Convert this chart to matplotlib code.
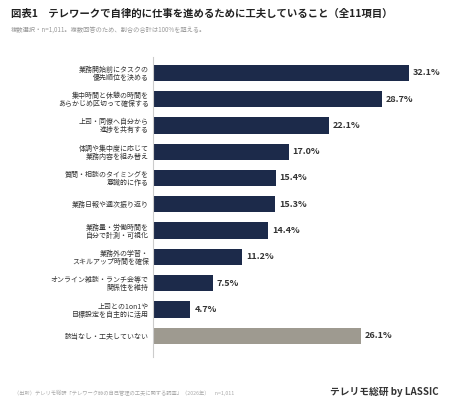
import matplotlib
matplotlib.use("Agg")
import matplotlib.pyplot as plt

plt.rcParams['font.family'] = ['Noto Sans CJK JP', 'DejaVu Sans']

labels = ["業務開始前にタスクの\n優先順位を決める", "集中時間と休憩の時間を\nあらかじめ区切って確保する",
          "上司・同僚へ自分から\n進捗を共有する", "体調や集中度に応じて\n業務内容を組み替え",
          "質問・相談のタイミングを\n意識的に作る", "業務日報や週次振り返り",
          "業務量・労働時間を\n自分で計測・可視化", "業務外の学習・\nスキルアップ時間を確保",
          "オンライン雑談・ランチ会等で\n関係性を維持", "上司との1on1や\n目標設定を自主的に活用",
          "該当なし・工夫していない"]
values = [32.1, 28.7, 22.1, 17.0, 15.4, 15.3, 14.4, 11.2, 7.5, 4.7, 26.1]
colors = ["#1c2a4a"] * 10 + ["#9e9a90"]

fig = plt.figure(figsize=(4.5, 4.01), dpi=100)
ax = fig.add_axes([0.34, 0.11, 0.62, 0.748])
y = list(range(len(values)))
ax.barh(y, values, color=colors, height=0.62)
ax.set_ylim(len(values) - 0.2, -0.6)
ax.set_xlim(0, 35)
for yi, v in zip(y, values):
    ax.text(v + 0.5, yi, f"{v:.1f}%", va='center', ha='left', fontsize=6.5, fontweight='bold', color='#333333')
ax.set_yticks(y)
ax.set_yticklabels(labels, fontsize=5, color='#333333', linespacing=1.0)
ax.tick_params(axis='y', length=0, pad=3)
ax.set_xticks([])
for s in ['top', 'right', 'bottom']:
    ax.spines[s].set_visible(False)
ax.spines['left'].set_color('#cccccc')

fig.text(0.025, 0.965, "図表1　テレワークで自律的に仕事を進めるために工夫していること（全11項目）",
         fontsize=7.5, fontweight='bold', color='#222222', va='center')
fig.text(0.025, 0.925, "複数選択・n=1,011。複数回答のため、割合の合計は100%を超える。",
         fontsize=4.5, color='#999999', va='center')
fig.text(0.03, 0.02, "（出所）テレリモ総研「テレワーク時の自己管理の工夫に関する調査」（2026年）　n=1,011",
         fontsize=3.8, color='#aaaaaa', va='center')
fig.text(0.975, 0.022, "テレリモ総研 by LASSIC", fontsize=7, fontweight='bold', color='#333333',
         ha='right', va='center')
fig.savefig("out.png", dpi=100, facecolor='white')
